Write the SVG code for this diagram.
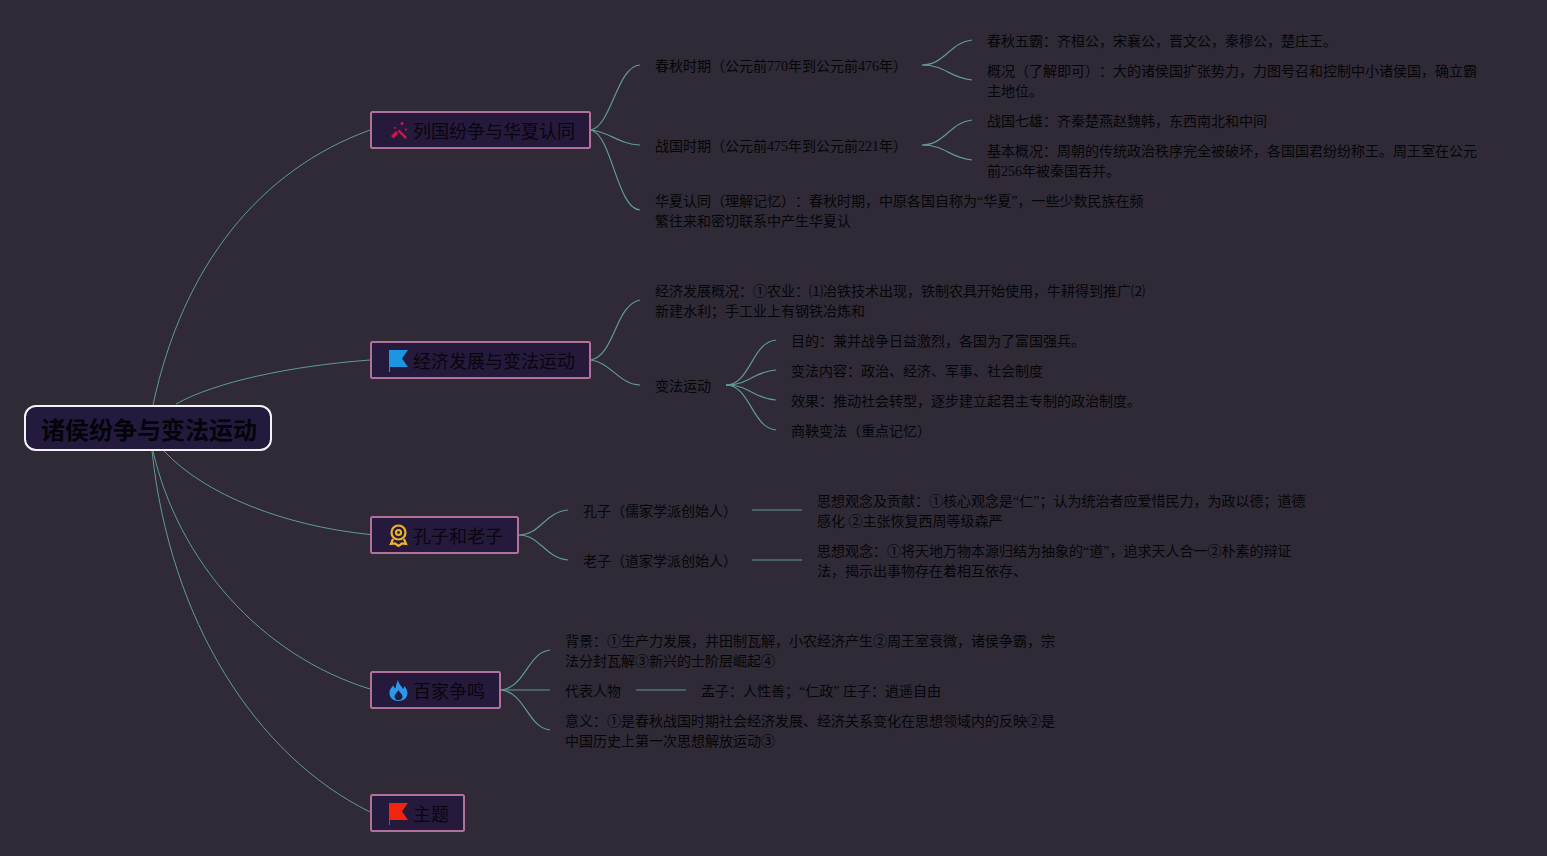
<svg xmlns="http://www.w3.org/2000/svg" width="1547" height="856" viewBox="0 0 1547 856">
<style>
text{font-family:"Liberation Serif","Noto Sans CJK SC",sans-serif;fill:#060608;text-spacing-trim:space-all}
.l{font-size:14px}
.b{font-size:18px;fill:#08060f}
.r{font-size:24px;font-weight:700;fill:#05040a}
.box{fill:#261a3c;stroke:#b2709a;stroke-width:2}
.root{fill:#231a3e;stroke:#f4f4f4;stroke-width:2}
#connectors path{fill:none;stroke:#5f9a98;stroke-width:1.2}
#connectors path.m{stroke-width:1}
</style>
<rect width="1547" height="856" fill="#2f2a36"/>
<g id="connectors">
<path class="m" d="M153 405C183 265 260 170 370 130"/>
<path class="m" d="M176 404C215 382 290 366 370 360"/>
<path class="m" d="M164 451C205 495 285 526 370 534.500"/>
<path class="m" d="M153 451C178 560 260 655 370 689"/>
<path class="m" d="M152 451C170 620 255 755 370 812"/>
<path d="M591 130C612 125 617 66 640 65"/>
<path d="M591 130C610 132 618 144 640 145"/>
<path d="M591 130C612 135 617 209 640 210"/>
<path d="M922 65C945 65 950 42 972 40"/>
<path d="M922 65C945 65 950 78 972 80"/>
<path d="M922 145C945 145 950 122 972 120"/>
<path d="M922 145C945 145 950 158 972 160"/>
<path d="M591 360C615 355 615 305 640 300"/>
<path d="M591 360C610 362 620 385 640 385"/>
<path d="M726 385C750 385 752 342 776 340"/>
<path d="M726 385C750 385 752 372 776 370"/>
<path d="M726 385C750 385 752 398 776 400"/>
<path d="M726 385C750 385 752 428 776 430"/>
<path d="M519 535C540 535 545 512 568 510"/>
<path d="M519 535C540 535 545 558 568 560"/>
<path d="M752 510H802"/>
<path d="M752 560H802"/>
<path d="M501 690C525 688 528 652 550 650"/>
<path d="M501 690H550"/>
<path d="M501 690C525 692 528 728 550 730"/>
<path d="M636 690H686"/>
</g>
<g id="root"><rect class="root" x="25" y="406" width="246" height="44" rx="11"/><text class="r" x="41" y="439">诸侯纷争与变法运动</text></g>
<g id="n1"><rect class="box" x="371" y="112" width="219" height="36" rx="1.500"/>
<g fill="#d3124f"><rect x="391" y="133" width="7" height="3.500" transform="rotate(-45 394.500 134.500)"/><rect x="397" y="133" width="11" height="2.600" transform="rotate(45 402.500 134)"/><circle cx="402" cy="123.500" r="1.500"/><circle cx="406" cy="129.500" r="1.100"/><circle cx="395" cy="128" r="1.100"/></g>
<text class="b" x="413" y="138">列国纷争与华夏认同</text></g>
<g id="n2"><rect class="box" x="371" y="342" width="219" height="36" rx="1.500"/>
<path d="M389 350H408L402 358.500L408 367H390V372H389Z" fill="#1c96e2"/>
<text class="b" x="413" y="368">经济发展与变法运动</text></g>
<g id="n3"><rect class="box" x="371" y="517" width="147" height="36" rx="1.500"/>
<g fill="none" stroke="#eeb32c" stroke-width="2.200"><circle cx="398.500" cy="532.500" r="7"/><circle cx="398.500" cy="532.500" r="2.500"/><path d="M393 539L391 544L395 543.500L398.500 546L402 543.500L406 544L404 539"/></g>
<text class="b" x="413" y="543">孔子和老子</text></g>
<g id="n4"><rect class="box" x="371" y="672" width="129" height="36" rx="1.500"/>
<path d="M398 680C399 685 402 686 403 689C404 688 404.500 687 404.500 686C406.500 689 407.500 691 407.500 693C407.500 698 403.500 701 398.500 701C393.500 701 389.500 698 389.500 693C389.500 689 392 687 393.500 685.500C394 687 394.500 688 395.500 688.500C396 685 397 682 398 680ZM398.500 690C397 693 394.500 694 394.500 697C395 699.500 397 700 398.500 700C400 700 402 699.500 402.500 697C402.500 694 400 693 398.500 690Z" fill-rule="evenodd" fill="#2b98ec"/>
<text class="b" x="413" y="698">百家争鸣</text></g>
<g id="n5"><rect class="box" x="371" y="795" width="93" height="36" rx="1.500"/>
<path d="M389 803H408L402 811.500L408 820H390V825H389Z" fill="#f0240f"/>
<text class="b" x="413" y="821">主题</text></g>
<g id="t1"><text class="l" x="655" y="71">春秋时期（公元前770年到公元前476年）</text></g>
<g id="t2"><text class="l" x="655" y="151">战国时期（公元前475年到公元前221年）</text></g>
<g id="t3"><text class="l" x="655" y="206">华夏认同（理解记忆）：春秋时期，中原各国自称为“华夏”，一些少数民族在频</text><text class="l" x="655" y="226">繁往来和密切联系中产生华夏认</text></g>
<g id="t4"><text class="l" x="987" y="46">春秋五霸：齐桓公，宋襄公，晋文公，秦穆公，楚庄王。</text></g>
<g id="t5"><text class="l" x="987" y="76">概况（了解即可）：大的诸侯国扩张势力，力图号召和控制中小诸侯国，确立霸</text><text class="l" x="987" y="96">主地位。</text></g>
<g id="t6"><text class="l" x="987" y="126">战国七雄：齐秦楚燕赵魏韩，东西南北和中间</text></g>
<g id="t7"><text class="l" x="987" y="156">基本概况：周朝的传统政治秩序完全被破坏，各国国君纷纷称王。周王室在公元</text><text class="l" x="987" y="176">前256年被秦国吞并。</text></g>
<g id="t8"><text class="l" x="655" y="296">经济发展概况：①农业：⑴冶铁技术出现，铁制农具开始使用，牛耕得到推广⑵</text><text class="l" x="655" y="316">新建水利；手工业上有钢铁冶炼和</text></g>
<g id="t9"><text class="l" x="655" y="391">变法运动</text></g>
<g id="t10"><text class="l" x="791" y="346">目的：兼并战争日益激烈，各国为了富国强兵。</text></g>
<g id="t11"><text class="l" x="791" y="376">变法内容：政治、经济、军事、社会制度</text></g>
<g id="t12"><text class="l" x="791" y="406">效果：推动社会转型，逐步建立起君主专制的政治制度。</text></g>
<g id="t13"><text class="l" x="791" y="436">商鞅变法（重点记忆）</text></g>
<g id="t14"><text class="l" x="583" y="516">孔子（儒家学派创始人）</text></g>
<g id="t15"><text class="l" x="583" y="566">老子（道家学派创始人）</text></g>
<g id="t16"><text class="l" x="817" y="506">思想观念及贡献：①核心观念是“仁”；认为统治者应爱惜民力，为政以德；道德</text><text class="l" x="817" y="526">感化 ②主张恢复西周等级森严</text></g>
<g id="t17"><text class="l" x="817" y="556">思想观念：①将天地万物本源归结为抽象的“道”，追求天人合一②朴素的辩证</text><text class="l" x="817" y="576">法，揭示出事物存在着相互依存、</text></g>
<g id="t18"><text class="l" x="565" y="646">背景：①生产力发展，井田制瓦解，小农经济产生②周王室衰微，诸侯争霸，宗</text><text class="l" x="565" y="666">法分封瓦解③新兴的士阶层崛起④</text></g>
<g id="t19"><text class="l" x="565" y="696">代表人物</text></g>
<g id="t20"><text class="l" x="701" y="696">孟子：人性善；“仁政” 庄子：逍遥自由</text></g>
<g id="t21"><text class="l" x="565" y="726">意义：①是春秋战国时期社会经济发展、经济关系变化在思想领域内的反映②是</text><text class="l" x="565" y="746">中国历史上第一次思想解放运动③</text></g>
</svg>
